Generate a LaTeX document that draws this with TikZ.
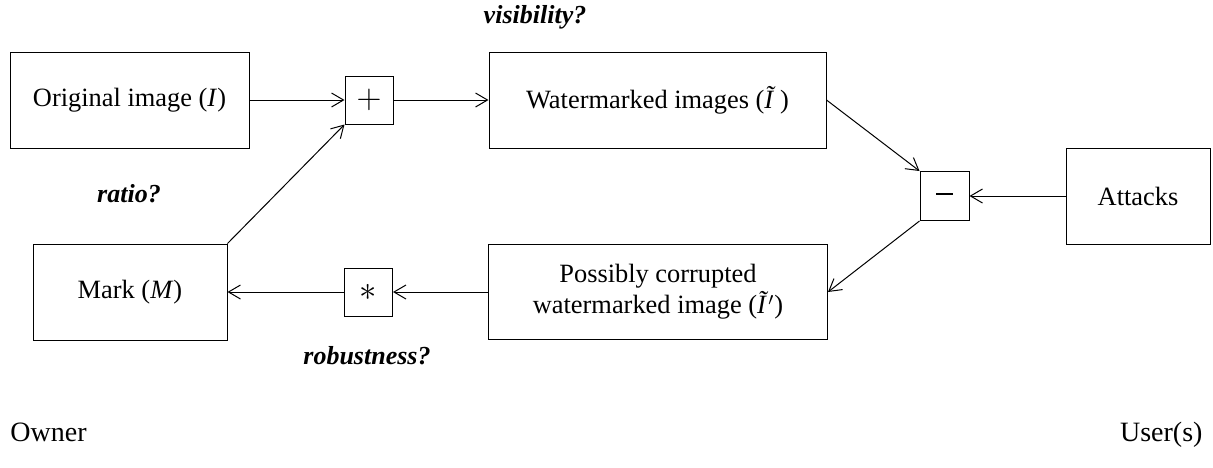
\documentclass[tikz,border=0pt]{standalone}
\usepackage{fontspec}
\setmainfont{Liberation Serif}
\usetikzlibrary{arrows.meta}
\begin{document}
\begin{tikzpicture}[x=0.5pt,y=-0.5pt,
  line width=0.5pt,
  >={Straight Barb[length=6pt,width=7pt]},
  box/.style={draw,line width=0.5pt,inner sep=0pt,align=center,font=\fontsize{13.2}{15.5}\selectfont},
  op/.style={draw,line width=0.5pt,inner sep=0pt,minimum width=24pt,minimum height=24pt,font=\fontsize{17}{17}\selectfont},
  q/.style={font=\fontsize{13}{15}\selectfont\bfseries\itshape},
  side/.style={font=\fontsize{14}{16}\selectfont}]
\useasboundingbox (0,0) rectangle (1213,467);
\node[box,minimum width=119.5pt,minimum height=48pt] (orig) at (129.5,100) {Original image (\textit{I})};
\node[op] (plus) at (369,100) {$+$};
\node[box,minimum width=168.5pt,minimum height=48pt] (wm) at (657.5,100) {Watermarked images (\textit{Ĩ}\,)};
\node[op,minimum width=24.5pt,minimum height=24.5pt] (minus) at (944.5,196) {\rule[0.3ex]{0.5em}{1pt}};
\node[box,minimum width=72pt,minimum height=48pt] (att) at (1138,196) {Attacks};
\node[box,minimum width=97pt,minimum height=48pt] (mark) at (130,292) {Mark (\textit{M})};
\node[op] (star) at (368.5,292) {$\mathbf{\ast}$};
\node[box,minimum width=169.5pt,minimum height=47.5pt] (pc) at (658,292) {Possibly corrupted\\watermarked image (\textit{Ĩ}$'$)};
\node[q] (vis) at (535,17) {visibility?};
\node[q] (rat) at (129,194) {ratio?};
\node[q] (rob) at (367,356) {robustness?};
\node[side,anchor=base west,inner sep=0pt] (own) at (10,441) {Owner};
\node[side,anchor=base east,inner sep=0pt] (usr) at (1203,441) {User(s)};
\draw[->] (orig.east) -- (plus.west);
\draw[->] (plus.east) -- (wm.west);
\draw[->] (mark.north east) -- (plus.south west);
\draw[->] (wm.east) -- (minus.north west);
\draw[->] (att.west) -- (minus.east);
\draw[->] (minus.south west) -- (pc.east);
\draw[->] (pc.west) -- (star.east);
\draw[->] (star.west) -- (mark.east);
\end{tikzpicture}
\end{document}
